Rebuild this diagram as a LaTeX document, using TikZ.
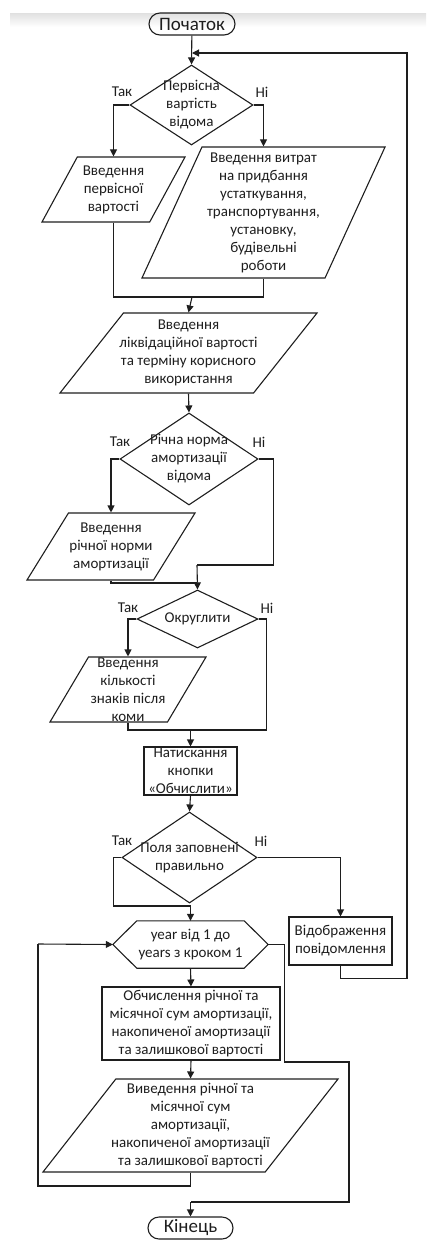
\documentclass[tikz,border=0pt]{standalone}
\usepackage{fontspec}
\setmainfont{Carlito}
\usetikzlibrary{shapes.geometric,arrows.meta}

\definecolor{ink}{RGB}{30,30,30}

\tikzset{
  base/.style={draw=ink, line width=1.1pt, inner sep=1pt},
  txt/.style={align=center, inner sep=0pt, text=ink,
    font=\fontsize{15}{18}\selectfont},
  lbl/.style={inner sep=0pt, text=ink, font=\fontsize{15}{18}\selectfont},
  term/.style={base, rectangle, rounded corners=11pt,
    minimum width=#1, minimum height=22pt},
  dec/.style 2 args={base, diamond, minimum width=#1, minimum height=#2},
  io/.style 2 args={base, trapezium, trapezium left angle=64,
    trapezium right angle=116, trapezium stretches=true,
    minimum width=#1, minimum height=#2},
  proc/.style 2 args={base, rectangle, minimum width=#1, minimum height=#2},
  loopbox/.style 2 args={rectangle, inner sep=1pt, minimum width=#1, minimum height=#2},
  line/.style={draw=ink, line width=1.1pt},
  arr/.style={line, -{Triangle[length=7pt,width=7pt]}}
}

\begin{document}
\begin{tikzpicture}[x=1pt, y=-1pt]
      \useasboundingbox (0,0) rectangle (426,1240);

      % screen band
      \shade[top color=black!12, bottom color=white] (10,13) rectangle (426,27);

      % start
      \node[term=86pt, font=\fontsize{19}{20}\selectfont, text=ink] (start) at (192,24) {Початок};

      % initial cost
      \node[dec={123pt}{80pt}, label={[txt]center:{Первісна\\вартість\\відома}}] (d1) at (191.5,105) {};
      \node[io={143pt}{65pt}, label={[txt]center:{Введення\\первісної\\вартості}}] (p1) at (113.5,189.5) {};
      \node[io={243pt}{131pt}, label={[txt]center:{Введення витрат\\на придбання\\устаткування,\\транспортування,\\установку,\\будівельні\\роботи}}] (p2) at (263.5,212.5) {};
      \node[io={257pt}{80pt}, label={[txt]center:{Введення\\ліквідаційної вартості\\та терміну корисного\\використання}}] (p3) at (188.5,353) {};

      % rate
      \node[dec={138pt}{92pt}, label={[txt]center:{Річна норма\\амортизації\\відома}}] (d2) at (189,459) {};
      \node[io={168pt}{67pt}, label={[txt]center:{Введення\\річної норми\\амортизації}}] (p4) at (111,546.5) {};

      % rounding
      \node[dec={121pt}{58pt}, label={[txt]center:{Округлити}}] (d3) at (197.5,619) {};
      \node[io={156pt}{65pt}, label={[txt]center:{Введення\\кількості\\знаків після\\коми}}] (p5) at (128,689.5) {};

      % button and check
      \node[proc={93pt}{48pt}, label={[txt]center:{Натискання\\кнопки\\«Обчислити»}}] (btn) at (190.5,771) {};
      \node[dec={135pt}{91pt}, label={[txt]center:{Поля заповнені\\правильно}}] (d4) at (189.5,857.5) {};
      \node[proc={103pt}{48pt}, label={[txt]center:{Відображення\\повідомлення}}] (msg) at (340.5,941) {};

      % loop
      \node[loopbox={155pt}{47pt}, label={[txt]center:{year від 1 до\\years з кроком 1}}] (hex) at (190.5,944.5) {};
      \draw[line] (hex.west) -- ([xshift=24pt]hex.north west) -- ([xshift=-24pt]hex.north east)
        -- (hex.east) -- ([xshift=-24pt]hex.south east) -- ([xshift=24pt]hex.south west) -- cycle;
      \node[proc={178pt}{73pt}, label={[txt]center:{Обчислення річної та\\місячної сум амортизації,\\накопиченої амортизації\\та залишкової вартості}}] (calc) at (191,1023.5) {};
      \node[io={295pt}{93pt}, label={[txt]center:{Виведення річної та\\місячної сум\\амортизації,\\накопиченої амортизації\\та залишкової вартості}}] (p6) at (190.5,1125.5) {};

      % end
      \node[term=85pt, font=\fontsize{19}{20}\selectfont, text=ink] (stop) at (190.5,1228) {Кінець};

      % branch labels
      \node[lbl] (y1) at (122,92) {Так};
      \node[lbl] (n1) at (262,92) {Ні};
      \node[lbl] (y2) at (120,442) {Так};
      \node[lbl] (n2) at (259,442) {Ні};
      \node[lbl] (y3) at (128,608) {Так};
      \node[lbl] (n3) at (267,608) {Ні};
      \node[lbl] (y4) at (122,841) {Так};
      \node[lbl] (n4) at (261,841) {Ні};

      % joins
      \coordinate (j1) at (192,53);
      \coordinate (m1) at (192,297);
      \coordinate (m2) at (197,565);
      \coordinate (m3) at (197,583);
      \coordinate (m4) at (190.5,730);
      \coordinate (m5) at (190.5,906);
      \coordinate (m6) at (190.5,1186);
      \coordinate (m7) at (190.5,1202);

      % connectors
      \draw[arr] (start) -- (d1.north);
      \draw[arr] (msg.south) -- ++(0,13) -| (407,53) -- (j1);
      \draw[arr] (d1.west) -| (p1.north);
      \draw[arr] (d1.east) -| (p2.north);
      \draw[line] (p1.south) |- (m1);
      \draw[line] (p2.south) |- (m1);
      \draw[arr] (m1) -- (p3.north);
      \draw[arr] (p3.south) -- (d2.north);
      \draw[arr] (d2.west) -| (p4.north);
      \draw[line] (d2.east) -- ++(15,0) |- (m2);
      \draw[arr] (m2) -- (d3.north);
      \draw[line] (p4.south) |- (m3);
      \draw[arr] (d3.west) -| (p5.north);
      \draw[line] (d3.east) -- ++(8,0) |- (m4);
      \draw[line] (p5.south) |- (m4);
      \draw[arr] (m4) -- (btn.north);
      \draw[arr] (btn.south) -- (d4.north);
      \draw[line] (d4.west) -- ++(-8,0) |- (m5);
      \draw[arr] (m5) -- (hex.north);
      \draw[arr] (d4.east) -| (msg.north);
      \draw[arr] (hex.south) -- (calc.north);
      \draw[arr] (calc.south) -- (p6.north);
      \draw[line] (p6.south) |- (m6) -| (38,944);
      \draw[arr] (38,944) -- (hex.west);
      \draw[line] (hex.east) -- ++(16,0) |- (349,1062) |- (m7);
      \draw[arr] (m7) -- (stop.north);

    \end{tikzpicture}
\end{document}
